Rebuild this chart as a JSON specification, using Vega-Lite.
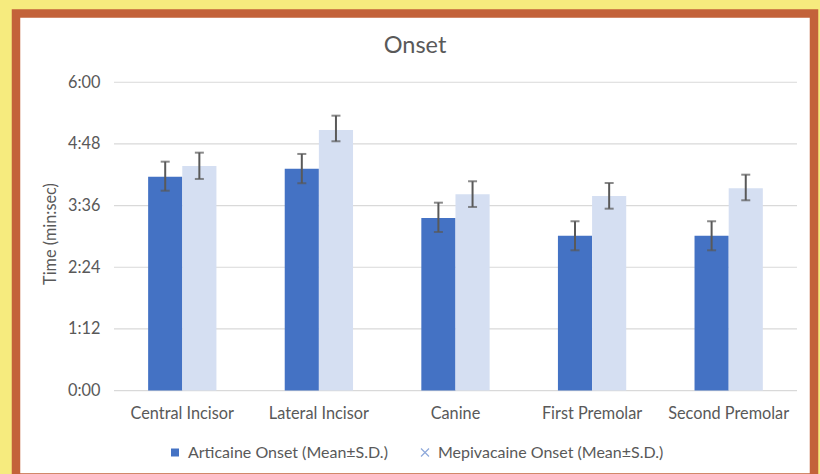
{
  "$schema": "https://vega.github.io/schema/vega-lite/v6.json",
  "autosize": {"type": "none"},
  "padding": {"left": 16, "top": 13.5, "right": 6, "bottom": 0},
  "width": 798,
  "height": 464,
  "background": "#F6EB7E",
  "config": {
    "view": {"fill": "#ffffff", "stroke": "#C3623A", "strokeWidth": 8.5},
    "font": "Lato",
    "axis": {"labelColor": "#595959", "labelFontSize": 16.3, "titleColor": "#595959", "titleFontSize": 16.3, "titleFontWeight": "normal", "ticks": false, "domain": false, "grid": false}
  },
  "title": {"text": "Onset", "fontSize": 23.5, "fontWeight": "normal", "color": "#595959", "offset": -62.5, "baseline": "alphabetic", "frame": "group", "anchor": "middle"},
  "datasets": {
    "main": [
      {"tooth": "Central Incisor", "drug": "Articaine Onset (Mean±S.D.)", "mean": 249.8, "lo": 233.4, "hi": 267.3},
      {"tooth": "Central Incisor", "drug": "Mepivacaine Onset (Mean±S.D.)", "mean": 262.3, "lo": 247.1, "hi": 277.8},
      {"tooth": "Lateral Incisor", "drug": "Articaine Onset (Mean±S.D.)", "mean": 259.1, "lo": 242.1, "hi": 276.3},
      {"tooth": "Lateral Incisor", "drug": "Mepivacaine Onset (Mean±S.D.)", "mean": 304.3, "lo": 291.1, "hi": 321.0},
      {"tooth": "Canine", "drug": "Articaine Onset (Mean±S.D.)", "mean": 201.5, "lo": 185.2, "hi": 219.4},
      {"tooth": "Canine", "drug": "Mepivacaine Onset (Mean±S.D.)", "mean": 229.2, "lo": 214.4, "hi": 244.4},
      {"tooth": "First Premolar", "drug": "Articaine Onset (Mean±S.D.)", "mean": 180.9, "lo": 163.8, "hi": 197.7},
      {"tooth": "First Premolar", "drug": "Mepivacaine Onset (Mean±S.D.)", "mean": 227.2, "lo": 212.4, "hi": 242.4},
      {"tooth": "Second Premolar", "drug": "Articaine Onset (Mean±S.D.)", "mean": 180.9, "lo": 163.8, "hi": 197.7},
      {"tooth": "Second Premolar", "drug": "Mepivacaine Onset (Mean±S.D.)", "mean": 236.2, "lo": 222.2, "hi": 252.1}
    ],
    "grid": [
      {"t": 0, "from": "Central Incisor", "to": "Second Premolar"},
      {"t": 72, "from": "Central Incisor", "to": "Second Premolar"},
      {"t": 144, "from": "Central Incisor", "to": "Second Premolar"},
      {"t": 216, "from": "Central Incisor", "to": "Second Premolar"},
      {"t": 288, "from": "Central Incisor", "to": "Second Premolar"},
      {"t": 360, "from": "Central Incisor", "to": "Second Premolar"}
    ]
  },
  "layer": [
    {
      "data": {"name": "grid"},
      "mark": {"type": "rule", "color": "#D9D9D9", "strokeWidth": 1.2},
      "encoding": {
        "x": {"field": "from", "type": "nominal", "bandPosition": 0,
              "scale": {"domain": ["Central Incisor", "Lateral Incisor", "Canine", "First Premolar", "Second Premolar"], "paddingInner": 0, "paddingOuter": 0.42094, "align": 0.852},
              "axis": {"title": null, "orient": "bottom", "offset": -86.9, "labelPadding": 15, "labelAngle": 0}},
        "x2": {"field": "to", "bandPosition": 1},
        "y": {"field": "t", "type": "quantitative", "scale": {"domain": [-101.5, 440.3], "nice": false, "zero": false},
              "axis": {"title": "Time (min:sec)", "orient": "left", "offset": -92, "labelPadding": 8, "values": [0, 72, 144, 216, 288, 360],
                       "labelExpr": "floor(datum.value/60) + ':' + (datum.value % 60 < 10 ? '0' : '') + (datum.value % 60)",
                       "titleX": -58, "titleY": 220, "titleBaseline": "middle"}}
      }
    },
    {
      "data": {"name": "main"},
      "mark": {"type": "bar"},
      "encoding": {
        "x": {"field": "tooth", "type": "nominal"},
        "xOffset": {"field": "drug", "type": "nominal", "scale": {"paddingInner": 0, "paddingOuter": 1.1015}},
        "y": {"field": "mean", "type": "quantitative", "stack": null},
        "color": {"field": "drug", "type": "nominal",
                  "scale": {"domain": ["Articaine Onset (Mean±S.D.)", "Mepivacaine Onset (Mean±S.D.)"], "range": ["#4472C4", "#D5DFF2"]},
                  "legend": {"title": null, "orient": "none", "legendX": 151, "legendY": 431, "direction": "horizontal",
                             "labelFontSize": 16, "labelColor": "#595959", "labelLimit": 0, "symbolSize": 64, "labelOffset": 5, "columnPadding": 29, "padding": 0,
                             "encode": {"symbols": {"update": {
                               "shape": {"signal": "datum.value == 'Mepivacaine Onset (Mean±S.D.)' ? 'M-1,-1L1,1M1,-1L-1,1' : 'square'"},
                               "fill": {"signal": "datum.value == 'Mepivacaine Onset (Mean±S.D.)' ? 'transparent' : '#4472C4'"},
                               "stroke": {"signal": "datum.value == 'Mepivacaine Onset (Mean±S.D.)' ? '#8EA9DB' : 'transparent'"},
                               "strokeWidth": {"value": 1.2}}}}}}
      }
    },
    {
      "data": {"name": "main"},
      "mark": {"type": "rule", "color": "#595959", "strokeWidth": 2},
      "encoding": {
        "x": {"field": "tooth", "type": "nominal"},
        "xOffset": {"field": "drug", "type": "nominal"},
        "y": {"field": "lo", "type": "quantitative"},
        "y2": {"field": "hi"}
      }
    },
    {
      "data": {"name": "main"},
      "mark": {"type": "tick", "color": "#595959", "thickness": 2, "size": 9},
      "encoding": {
        "x": {"field": "tooth", "type": "nominal"},
        "xOffset": {"field": "drug", "type": "nominal"},
        "y": {"field": "lo", "type": "quantitative"}
      }
    },
    {
      "data": {"name": "main"},
      "mark": {"type": "tick", "color": "#595959", "thickness": 2, "size": 9},
      "encoding": {
        "x": {"field": "tooth", "type": "nominal"},
        "xOffset": {"field": "drug", "type": "nominal"},
        "y": {"field": "hi", "type": "quantitative"}
      }
    }
  ]
}
